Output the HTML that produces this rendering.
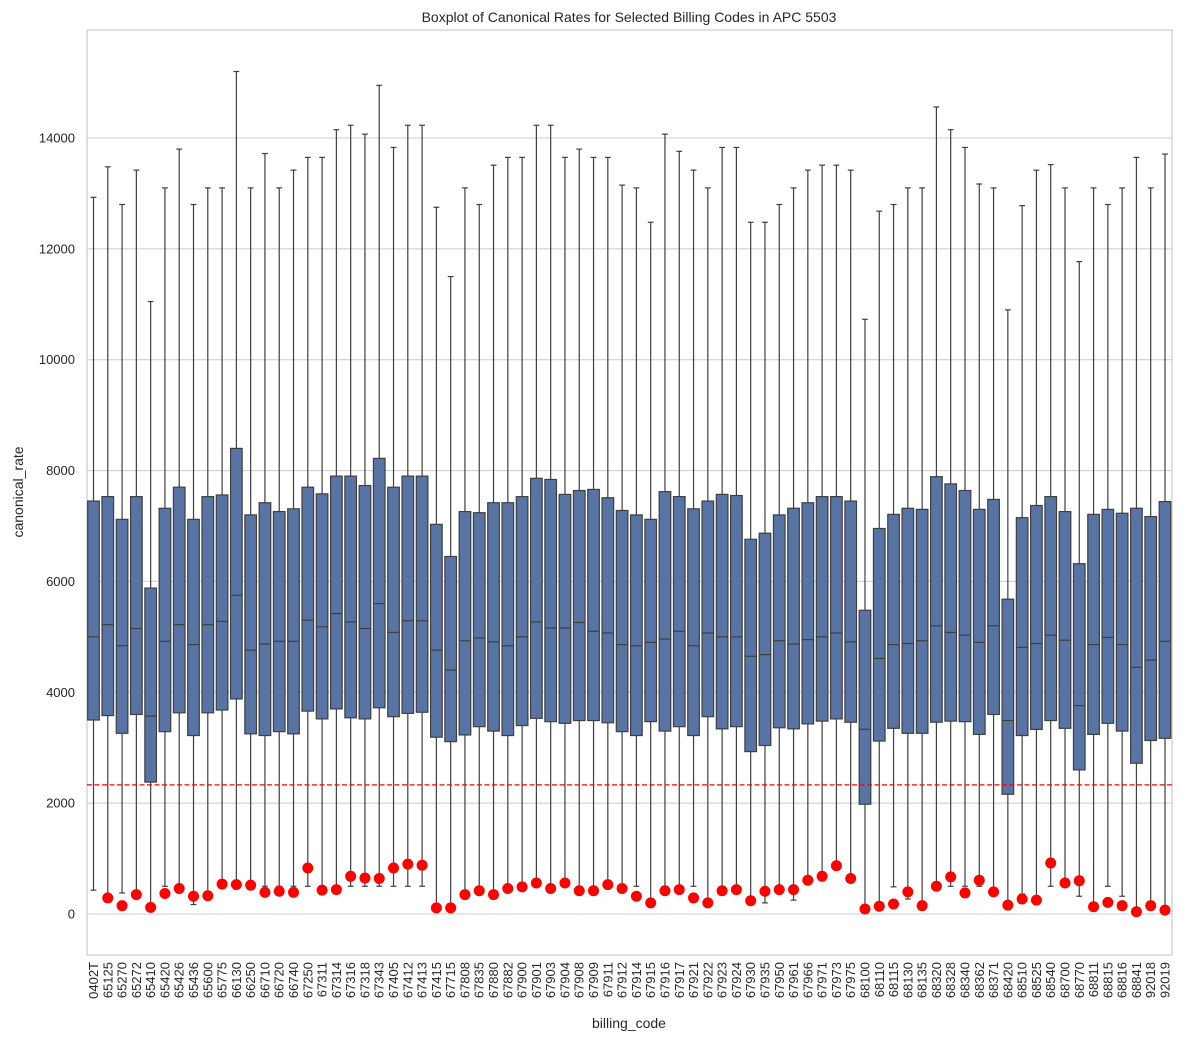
<!DOCTYPE html>
<html><head><meta charset="utf-8"><style>
body{margin:0;background:#fff;font-family:"Liberation Sans",sans-serif;}
svg text{font-family:"Liberation Sans",sans-serif;fill:#262626;}
</style></head><body>
<svg id="chart" width="1181" height="1041" xmlns="http://www.w3.org/2000/svg"></svg>
<script>
const codes=["0402T","65125","65270","65272","65410","65420","65426","65436","65600","65775","66130","66250","66710","66720","66740","67250","67311","67314","67316","67318","67343","67405","67412","67413","67415","67715","67808","67835","67880","67882","67900","67901","67903","67904","67908","67909","67911","67912","67914","67915","67916","67917","67921","67922","67923","67924","67930","67935","67950","67961","67966","67971","67973","67975","68100","68110","68115","68130","68135","68320","68328","68340","68362","68371","68420","68510","68525","68540","68700","68770","68811","68815","68816","68841","92018","92019"];
const q3=[7450,7530,7120,7530,5880,7320,7700,7120,7530,7560,8400,7200,7420,7260,7310,7700,7580,7900,7900,7730,8220,7700,7900,7900,7030,6450,7260,7240,7420,7420,7530,7860,7840,7570,7640,7660,7510,7280,7200,7120,7620,7530,7310,7450,7570,7550,6760,6870,7200,7320,7420,7530,7530,7450,5480,6955,7210,7320,7300,7890,7760,7640,7300,7480,5680,7150,7370,7530,7260,6320,7210,7300,7230,7320,7170,7440];
const med=[5000,5220,4840,5150,3570,4920,5220,4860,5220,5280,5750,4760,4870,4920,4920,5300,5180,5420,5270,5150,5600,5080,5290,5290,4760,4400,4930,4980,4910,4840,5000,5270,5160,5160,5260,5100,5070,4860,4840,4900,4960,5100,4840,5070,5000,5000,4650,4680,4930,4870,4950,5000,5070,4910,3333,4610,4860,4880,4930,5200,5080,5030,4900,5200,3490,4810,4880,5030,4940,3760,4860,4990,4860,4450,4580,4920];
const q1=[3500,3580,3260,3600,2380,3290,3630,3220,3630,3680,3880,3250,3220,3290,3250,3660,3520,3700,3540,3520,3720,3560,3620,3640,3190,3110,3230,3380,3300,3220,3400,3530,3470,3440,3490,3490,3450,3290,3220,3470,3300,3380,3220,3560,3340,3380,2930,3040,3360,3340,3430,3480,3520,3460,1980,3120,3350,3260,3260,3460,3480,3470,3240,3600,2160,3220,3330,3490,3350,2600,3240,3440,3300,2720,3130,3170];
const whi=[12930,13480,12800,13420,11050,13100,13800,12800,13100,13100,15200,13100,13720,13100,13420,13650,13650,14150,14230,14070,14950,13830,14230,14230,12750,11500,13100,12800,13510,13650,13650,14230,14230,13650,13800,13650,13650,13150,13100,12480,14070,13760,13420,13100,13830,13830,12480,12480,12800,13100,13420,13510,13510,13420,10730,12680,12800,13100,13100,14560,14150,13830,13170,13100,10900,12780,13420,13520,13100,11770,13100,12800,13100,13650,13100,13710];
const wlo=[430,290,380,300,120,500,450,170,330,540,530,520,500,500,500,500,430,440,500,500,500,500,500,500,110,180,350,420,350,460,490,560,460,560,420,420,530,460,500,200,420,440,500,200,420,440,240,200,440,250,610,680,870,640,90,140,490,270,150,500,500,500,500,400,160,360,250,500,560,320,130,500,320,40,150,70];
const red=[null,290,150,350,120,370,460,320,330,540,530,520,390,410,390,830,430,440,680,650,640,830,900,880,110,110,350,420,350,460,490,560,460,560,420,420,530,460,320,200,420,440,290,200,420,440,240,410,440,440,610,680,870,640,90,140,180,400,150,500,670,380,610,400,160,270,250,920,560,600,130,210,150,40,150,70];
const yTicks=[0,2000,4000,6000,8000,10000,12000,14000];
const refLine=2330;

const NS="http://www.w3.org/2000/svg";
const svg=document.getElementById('chart');
const L=87,R=1172,T=30,B=955;
const x0=93.5,step=(1165-93.5)/75,bw=11.6;
function xs(i){return x0+i*step;}
function ys(v){return 914-v*776/14000;}
function mk(tag,attrs,parent){const e=document.createElementNS(NS,tag);for(const k in attrs)e.setAttribute(k,attrs[k]);(parent||svg).appendChild(e);return e;}

let t=mk('text',{x:629,y:22,'text-anchor':'middle','font-size':14});t.textContent='Boxplot of Canonical Rates for Selected Billing Codes in APC 5503';


yTicks.forEach(v=>{
  const g=mk('line',{x1:L,x2:R,y1:ys(v),y2:ys(v),stroke:'#cccccc','stroke-width':1});
  
  
  const tl=mk('text',{x:75,y:ys(v)+4.5,'text-anchor':'end','font-size':13});tl.textContent=v;
  
  
});
let fr=mk('rect',{x:L,y:T,width:R-L,height:B-T,fill:'none',stroke:'#cccccc','stroke-width':1.2});


let yl=mk('text',{x:0,y:0,'text-anchor':'middle','font-size':14,transform:'translate(23,492) rotate(-90)'});yl.textContent='canonical_rate';


let xl=mk('text',{x:629,y:1028,'text-anchor':'middle','font-size':14});xl.textContent='billing_code';



const ec='#3f3f3f';
codes.forEach((c,i)=>{
  const cx=xs(i);
  const g=mk('g',{});
  
  
  mk('line',{x1:cx,x2:cx,y1:ys(q3[i]),y2:ys(whi[i]),stroke:ec,'stroke-width':1.2},g);
  mk('line',{x1:cx,x2:cx,y1:ys(q1[i]),y2:ys(wlo[i]),stroke:ec,'stroke-width':1.2},g);
  mk('line',{x1:cx-bw/4,x2:cx+bw/4,y1:ys(whi[i]),y2:ys(whi[i]),stroke:ec,'stroke-width':1.2},g);
  mk('line',{x1:cx-bw/4,x2:cx+bw/4,y1:ys(wlo[i]),y2:ys(wlo[i]),stroke:ec,'stroke-width':1.2},g);
  mk('rect',{x:cx-bw/2,y:ys(q3[i]),width:bw,height:ys(q1[i])-ys(q3[i]),fill:'#5874a5',stroke:ec,'stroke-width':1.2},g);
  mk('line',{x1:cx-bw/2,x2:cx+bw/2,y1:ys(med[i]),y2:ys(med[i]),stroke:ec,'stroke-width':1.2},g);
  const lb=mk('text',{x:0,y:0,'text-anchor':'end','font-size':13,transform:`translate(${cx+4.5},962) rotate(-90)`});lb.textContent=c;
  
  
});
let rl=mk('line',{x1:L,x2:R,y1:ys(refLine),y2:ys(refLine),stroke:'#ff0000','stroke-width':1.3,'stroke-dasharray':'5,2.5'});


codes.forEach((c,i)=>{
  if(red[i]==null)return;
  const d=mk('circle',{cx:xs(i),cy:ys(red[i]),r:5.5,fill:'#ff0000'});
  
  
});
</script>
</body></html>
